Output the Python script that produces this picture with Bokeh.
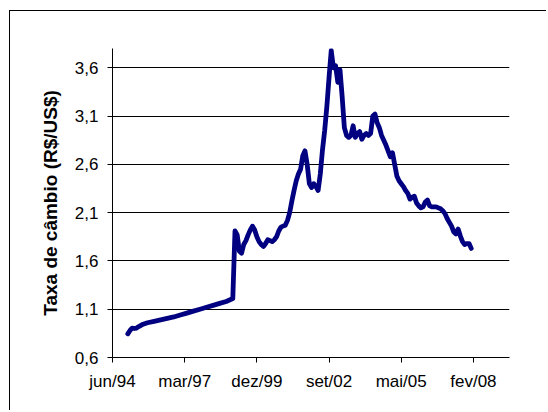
from bokeh.plotting import figure
from bokeh.models import Range1d, FixedTicker
from bokeh.embed import file_html
from bokeh.resources import INLINE

# Monthly exchange rate, months counted from jun/94
months = [7, 8, 9, 10, 11, 12, 14, 16, 19, 22, 25, 28, 31, 34, 37, 40, 43, 46, 49, 52,
          54, 55, 56, 57, 58, 59, 60, 61, 62, 63, 64, 65, 66, 67, 68, 69, 70, 71, 72, 73,
          74, 75, 76, 77, 78, 79, 80, 81, 82, 83, 84, 85, 86, 87, 88, 89, 90, 91, 92, 93,
          94, 95, 96, 97, 98, 99, 100, 101, 102, 103, 104, 105, 106, 107, 108, 109, 110, 111, 112, 113,
          114, 115, 116, 117, 118, 119, 120, 121, 122, 123, 124, 125, 126, 127, 128, 129, 130, 131, 132, 133,
          134, 135, 136, 137, 138, 139, 140, 141, 142, 143, 144, 145, 146, 147, 148, 149, 150, 151, 152, 153,
          154, 155, 156, 157, 158, 159, 160, 161, 162, 163, 164]
rate = [0.845, 0.88, 0.905, 0.90, 0.905, 0.92, 0.945, 0.96, 0.975, 0.99, 1.005, 1.02, 1.04, 1.06, 1.08, 1.10, 1.12, 1.14, 1.16, 1.18,
        1.20, 1.21, 1.91, 1.87, 1.70, 1.68, 1.77, 1.81, 1.87, 1.92, 1.96, 1.92, 1.85, 1.80, 1.77, 1.75, 1.78, 1.82, 1.81, 1.80,
        1.82, 1.85, 1.91, 1.95, 1.96, 1.97, 2.02, 2.10, 2.22, 2.33, 2.43, 2.50, 2.55, 2.69, 2.74, 2.60, 2.40, 2.36, 2.40, 2.37,
        2.33, 2.50, 2.75, 2.95, 3.20, 3.50, 3.78, 3.60, 3.62, 3.45, 3.58, 3.30, 2.98, 2.90, 2.88, 2.90, 3.00, 2.88, 2.92, 2.94,
        2.86, 2.90, 2.92, 2.90, 2.92, 3.10, 3.12, 3.03, 2.98, 2.90, 2.85, 2.80, 2.74, 2.68, 2.72, 2.60, 2.48, 2.43, 2.40, 2.37,
        2.33, 2.30, 2.24, 2.26, 2.27, 2.20, 2.17, 2.15, 2.16, 2.21, 2.23, 2.17, 2.16, 2.16, 2.16, 2.15, 2.14, 2.12, 2.09, 2.04,
        2.00, 1.96, 1.90, 1.88, 1.93, 1.86, 1.80, 1.77, 1.78, 1.78, 1.73]

x_ticks = [0, 33, 66, 99, 132, 165]
x_tick_labels = ["jun/94", "mar/97", "dez/99", "set/02", "mai/05", "fev/08"]
y_ticks = [0.6, 1.1, 1.6, 2.1, 2.6, 3.1, 3.6]
y_tick_labels = ["0,6", "1,1", "1,6", "2,1", "2,6", "3,1", "3,6"]

# chart area framed by a thin border on its top and left
p = figure(width=537, height=400, output_backend="svg", toolbar_location=None,
           x_range=Range1d(0, 181.5), y_range=Range1d(0.6, 3.8),
           min_border_left=102, min_border_right=38, min_border_top=37, min_border_bottom=54,
           styles={"margin-left": "9px", "margin-top": "10px",
                   "border-left": "1px solid black", "border-top": "1px solid black"})
p.outline_line_color = None
p.background_fill_color = "white"
p.border_fill_color = "white"

p.line(months, rate, line_color="#000080", line_width=4.8, line_join="round", line_cap="round")

font = "Liberation Sans"
p.xaxis.ticker = FixedTicker(ticks=x_ticks)
p.xaxis.major_label_overrides = dict(zip(x_ticks, x_tick_labels))
p.yaxis.ticker = FixedTicker(ticks=y_ticks)
p.yaxis.major_label_overrides = dict(zip(y_ticks, y_tick_labels))

for ax in (p.xaxis[0], p.yaxis[0]):
    ax.axis_line_color = "black"
    ax.major_tick_line_color = "black"
    ax.major_tick_out = 5
    ax.major_tick_in = 0
    ax.minor_tick_line_color = None
    ax.major_label_text_font = font
    ax.major_label_text_font_size = "17px"
    ax.major_label_text_color = "black"
    ax.major_label_standoff = 9

p.yaxis.axis_label = "Taxa de câmbio (R$/US$)"
p.yaxis.axis_label_text_font = font
p.yaxis.axis_label_text_font_style = "bold"
p.yaxis.axis_label_text_font_size = "19px"
p.yaxis.axis_label_text_color = "black"
p.yaxis.axis_label_standoff = 11

p.xgrid.grid_line_color = None
p.ygrid.grid_line_color = "black"
p.ygrid.grid_line_width = 1

open("out.html", "w").write(file_html(p, INLINE))
